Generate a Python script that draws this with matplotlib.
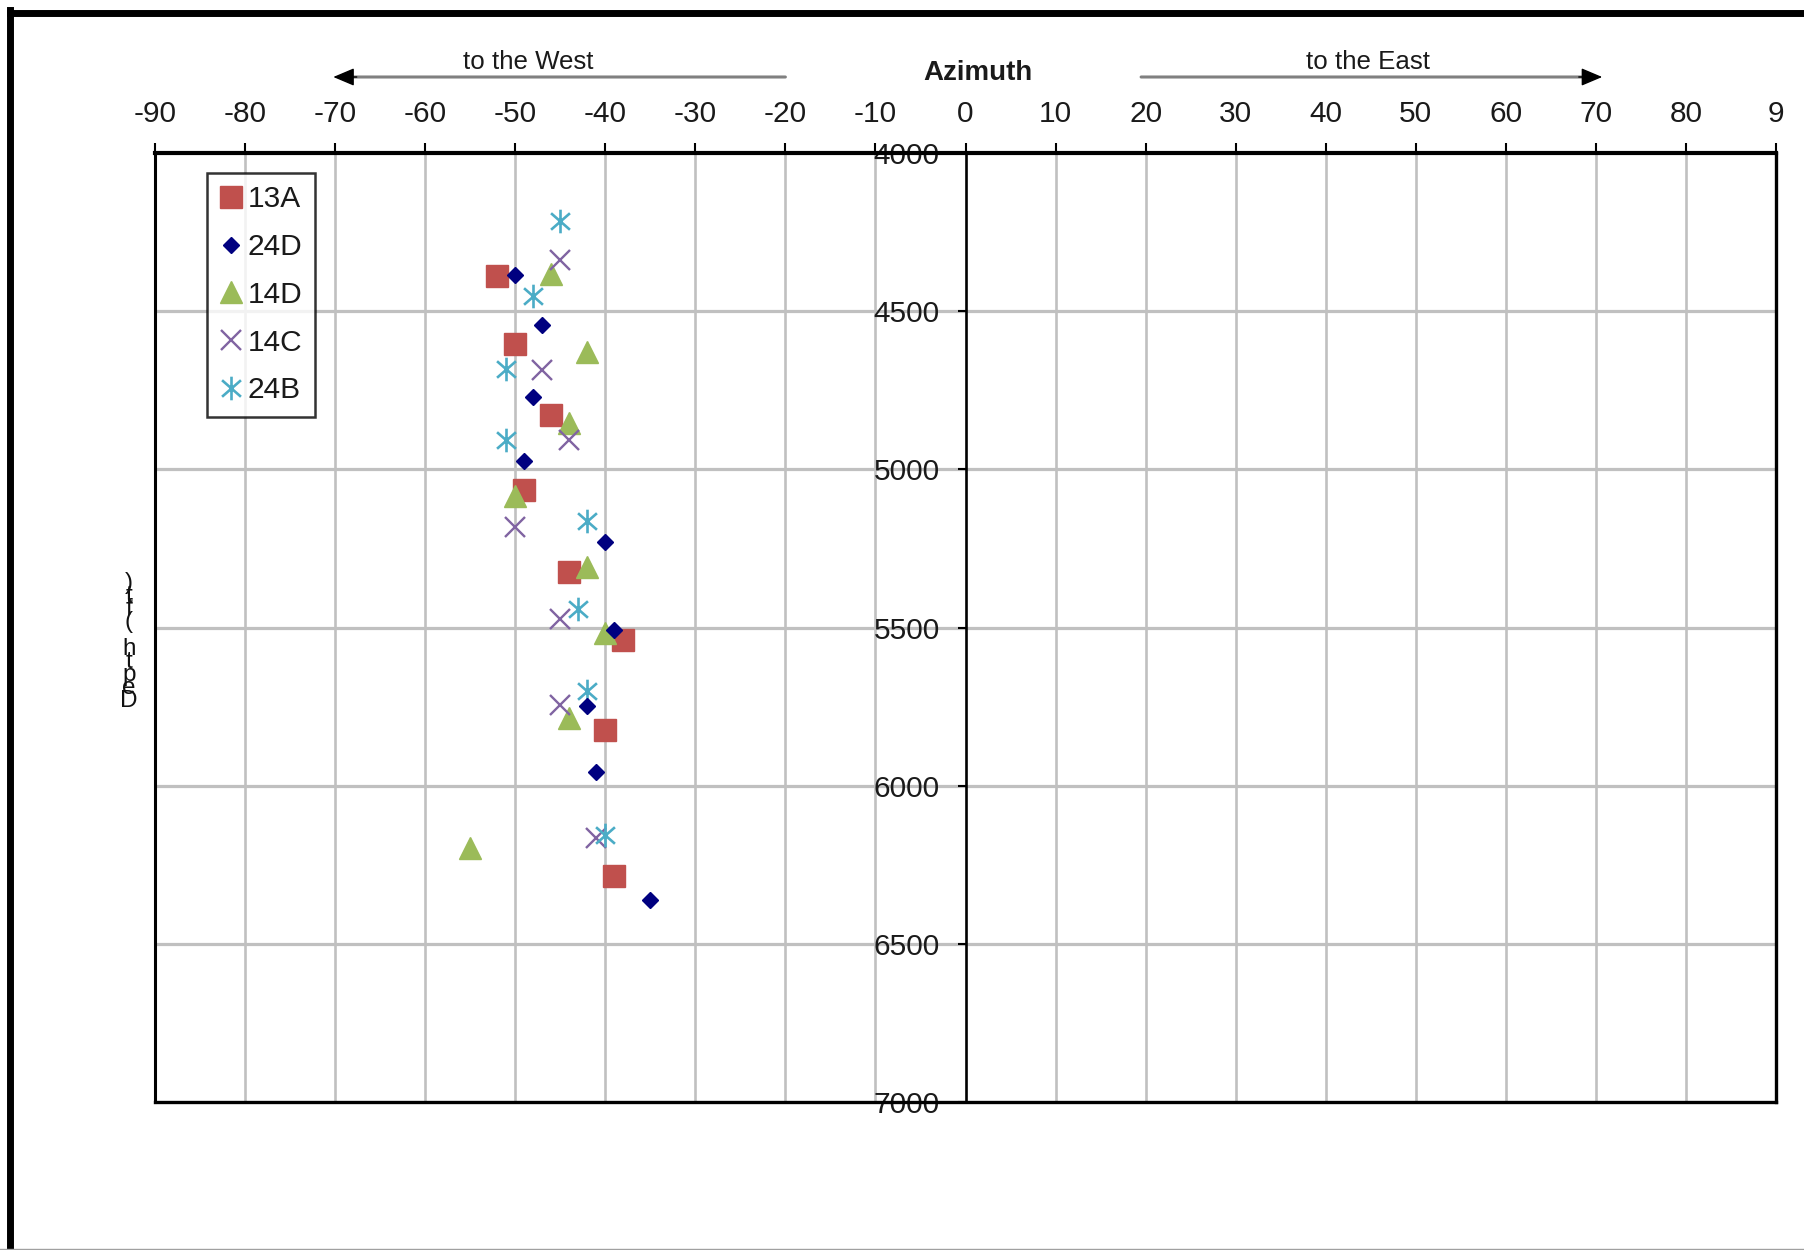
import matplotlib
matplotlib.use("Agg")
import matplotlib.pyplot as plt
from matplotlib.path import Path
from matplotlib.lines import Line2D
import matplotlib.transforms as mtransforms

plt.rcParams['font.family'] = ['Liberation Sans', 'DejaVu Sans']

# ---- data (azimuth in degrees, depth in ft) ----
series_names = ["13A", "24D", "14D", "14C", "24B"]

az_13A = [-52, -50, -46, -49, -44, -38, -40, -39]
depth_13A = [4389, 4603, 4828, 5064, 5323, 5538, 5823, 6285]

az_24D = [-50, -47, -48, -49, -40, -39, -42, -41, -35]
depth_24D = [4386, 4545, 4770, 4974, 5229, 5509, 5748, 5956, 6360]

az_14D = [-46, -42, -44, -50, -42, -40, -44, -55]
depth_14D = [4382, 4628, 4853, 5085, 5310, 5518, 5785, 6197]

az_14C = [-45, -47, -44, -50, -45, -45, -41]
depth_14C = [4337, 4687, 4907, 5181, 5473, 5744, 6164]

az_24B = [-45, -48, -51, -51, -42, -43, -42, -40]
depth_24B = [4215, 4452, 4683, 4908, 5163, 5440, 5701, 6156]

x_ticks = [-90, -80, -70, -60, -50, -40, -30, -20, -10, 0, 10, 20, 30, 40, 50, 60, 70, 80, 90]
x_tick_labels = ["-90", "-80", "-70", "-60", "-50", "-40", "-30", "-20", "-10", "0",
                 "10", "20", "30", "40", "50", "60", "70", "80", "9"]
y_ticks = [4000, 4500, 5000, 5500, 6000, 6500, 7000]
y_tick_labels = ["4000", "4500", "5000", "5500", "6000", "6500", "7000"]

colors = {"13A": "#C0504D", "24D": "#000080", "14D": "#9BBB59",
          "14C": "#8064A2", "24B": "#4BACC6"}

# asterisk marker (x + vertical bar)
star_path = Path([(0, -1), (0, 1), (-0.8, -0.7), (0.8, 0.7), (-0.8, 0.7), (0.8, -0.7)],
                 [Path.MOVETO, Path.LINETO, Path.MOVETO, Path.LINETO, Path.MOVETO, Path.LINETO])

W, H = 1804, 1250
fig = plt.figure(figsize=(W / 100, H / 100), dpi=100)
fig.patch.set_facecolor("white")

L, R, T, B = 155, 1776, 153, 1102
ax = fig.add_axes([L / W, 1 - B / H, (R - L) / W, (B - T) / H])
ax.set_xlim(-90, 90)
ax.set_ylim(7000, 4000)

# grid
for xv in x_ticks[1:-1]:
    if xv != 0:
        ax.axvline(xv, color="#C0C0C0", lw=1.9, zorder=0)
for yv in y_ticks[1:-1]:
    ax.axhline(yv, color="#C0C0C0", lw=2.3, zorder=0)

# spines
ax.spines['left'].set_position(('data', 0))
ax.spines['left'].set_linewidth(1.9)
ax.spines['left'].set_color("black")
ax.spines['top'].set_linewidth(3.0)
ax.spines['bottom'].set_linewidth(2.4)
ax.spines['right'].set_linewidth(2.4)
ax.axvline(-90, color="black", lw=2.2, clip_on=False, zorder=3)

FS = 21.5
ax.xaxis.tick_top()
ax.set_xticks(x_ticks)
ax.set_xticklabels(x_tick_labels)
ax.tick_params(axis='x', which='both', direction='out', length=7, width=1.5,
               labelsize=FS, pad=11, colors="black", labelcolor="#1a1a1a",
               bottom=False, top=True)
ax.set_yticks(y_ticks)
ax.set_yticklabels(y_tick_labels)
ax.tick_params(axis='y', direction='out', length=5.5, width=1.5, labelsize=FS,
               pad=13, labelcolor="#1a1a1a", right=False)

# data
ax.plot(az_13A, depth_13A, ls='none', marker='s', ms=15.5, color=colors["13A"],
        mec=colors["13A"], label="13A", zorder=5, clip_on=False)
ax.plot(az_24D, depth_24D, ls='none', marker='D', ms=8.3, color=colors["24D"],
        mec=colors["24D"], label="24D", zorder=6, clip_on=False)
ax.plot(az_14D, depth_14D, ls='none', marker='^', ms=16, color=colors["14D"],
        mec=colors["14D"], label="14D", zorder=5, clip_on=False)
ax.plot(az_14C, depth_14C, ls='none', marker='x', ms=15, mew=1.7, color=colors["14C"],
        label="14C", zorder=5, clip_on=False)
ax.plot(az_24B, depth_24B, ls='none', marker=star_path, ms=17, mew=1.9, color=colors["24B"],
        fillstyle='none', label="24B", zorder=5, clip_on=False)

leg = ax.legend(loc='upper left', bbox_to_anchor=(0.032, 0.979), borderaxespad=0,
                fontsize=FS, frameon=True, fancybox=False, handlelength=0.8,
                handletextpad=0.15, labelspacing=0.66, borderpad=0.42,
                markerscale=1.0, edgecolor="black")
leg.get_frame().set_linewidth(1.8)
for t in leg.get_texts():
    t.set_color("#1a1a1a")

# header annotations
trans = mtransforms.blended_transform_factory(ax.transData, fig.transFigure)
y_arrow = 1 - 77 / H
y_text = 1 - 62 / H
# West arrow: gray shaft + black head
ax.annotate('', xy=(-68.2, y_arrow), xytext=(-20, y_arrow), xycoords=trans, textcoords=trans,
            arrowprops=dict(arrowstyle='-', color='#808080', lw=2.2, shrinkA=0, shrinkB=0),
            annotation_clip=False)
ax.annotate('', xy=(-70.2, y_arrow), xytext=(-67.6, y_arrow), xycoords=trans, textcoords=trans,
            arrowprops=dict(arrowstyle='-|>,head_length=1.3,head_width=0.55',
                            color='black', lw=1, shrinkA=0, shrinkB=0),
            annotation_clip=False)
# East arrow
ax.annotate('', xy=(68.7, y_arrow), xytext=(19.5, y_arrow), xycoords=trans, textcoords=trans,
            arrowprops=dict(arrowstyle='-', color='#808080', lw=2.2, shrinkA=0, shrinkB=0),
            annotation_clip=False)
ax.annotate('', xy=(70.7, y_arrow), xytext=(68.1, y_arrow), xycoords=trans, textcoords=trans,
            arrowprops=dict(arrowstyle='-|>,head_length=1.3,head_width=0.55',
                            color='black', lw=1, shrinkA=0, shrinkB=0),
            annotation_clip=False)
ax.text(-48.5, y_text, "to the West", transform=trans, ha='center', va='center',
        fontsize=18.6, color="#1a1a1a")
ax.text(44.7, y_text, "to the East", transform=trans, ha='center', va='center',
        fontsize=18.6, color="#1a1a1a")
ax.text(1.4, 1 - 73 / H, "Azimuth", transform=trans, ha='center', va='center',
        fontsize=20, fontweight='bold', color="#1a1a1a")

# garbled stacked y-axis label
ylab = "Depth (ft)"
fig.text(129 / W, 1 - 642 / H, "\n".join(reversed(ylab)), ha='center', va='center',
         fontsize=17.5, linespacing=0.48, color="#111111")

# outer frame
fig.add_artist(Line2D([10 / W, 10 / W], [0, 1 - 10 / H], color='black', lw=5,
                      transform=fig.transFigure))
fig.add_artist(Line2D([10 / W, 1.0], [1 - 13 / H, 1 - 13 / H], color='black', lw=5,
                      transform=fig.transFigure))
fig.add_artist(Line2D([0, 1.0], [1.5 / H, 1.5 / H], color='#A0A0A0', lw=1,
                      transform=fig.transFigure))

fig.savefig("out.png", dpi=100, facecolor="white")
